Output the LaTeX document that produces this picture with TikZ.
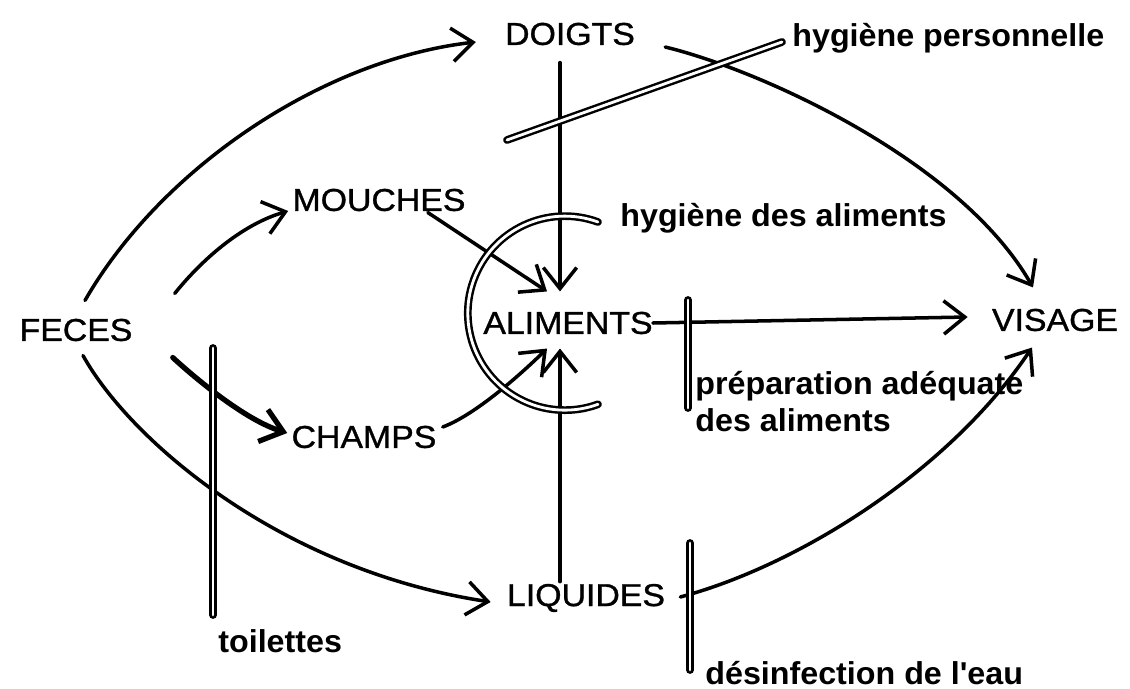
\documentclass[tikz,border=0pt]{standalone}
\usepackage{fontspec}
\setmainfont{Liberation Sans}[FakeStretch=1.07,FakeBold=1]
\newfontfamily\labfont{Liberation Sans}[FakeStretch=1.02]
\usetikzlibrary{arrows.meta,calc}

\begin{document}
\begin{tikzpicture}[
  x=0.02cm, y=-0.02cm,
  line cap=round,
  word/.style={inner sep=0pt,font=\fontsize{18}{21.5}\selectfont},
  lab/.style={inner sep=0pt,anchor=base west,align=left,
              font=\labfont\bfseries\fontsize{18}{21.5}\selectfont},
  link/.style={line width=2pt,-{Straight Barb[length=12pt,width=19pt]}},
  barrier/.style={double,double distance=1.6pt,line width=1.4pt}
]
\useasboundingbox (0,0) rectangle (1130,689);

% ---- Voies ----
\node[word] (feces)    at (76,330)   {FECES};
\node[word] (doigts)   at (570,34)   {DOIGTS};
\node[word] (mouches)  at (379,200)  {MOUCHES};
\node[word] (champs)   at (364,437)  {CHAMPS};
\node[word] (aliments) at (568,323)  {ALIMENTS};
\node[word] (liquides) at (586,598)  {LIQUIDES};
\node[word] (visage)   at (1055,320) {VISAGE};

% ---- depuis les feces ----
\draw[link] ($(feces.north)+(9,-18)$) .. controls (160,170) and (320,60) ..
  ($(doigts.west)+(-29,8)$);
\draw[link] ($(feces.north east)+(42,-25)$) .. controls (200,262) and (240,225) ..
  ($(mouches.west)+(-4,11)$);
\draw[link,line width=3pt] ($(feces.south east)+(40,16)$) .. controls (195,378) and (245,420) ..
  ($(champs.west)+(-4,-4)$);
\draw[link] ($(feces.south)+(7,14)$) .. controls (130,440) and (280,570) ..
  ($(liquides.west)+(-16,4)$);

% ---- vers les aliments ----
\draw[link] ($(mouches.south east)+(-38,1)$) -- ($(aliments.north west)+(64,-20)$);
\draw[link] ($(doigts.south)+(-10,17)$) -- ($(aliments.north)+(-8,-20)$);
\draw[link] ($(champs.east)+(6,-10)$) .. controls (475,415) and (520,375) ..
  ($(aliments.south west)+(64,14)$);
\draw[link] ($(liquides.north)+(-26,-2)$) -- ($(aliments.south)+(-8,14)$);

% ---- vers le visage ----
\draw[link] (aliments.east) -- ($(visage.west)+(-24,-3)$);
\draw[link] ($(doigts.east)+(30,13)$) .. controls (760,70) and (960,160) ..
  ($(visage.north)+(-22,-21)$);
\draw[link] ($(liquides.east)+(15,-1)$) .. controls (800,565) and (950,470) ..
  ($(visage.south)+(-23,16)$);

% ---- barrieres ----
\draw[barrier] (507,140) -- (782,42);
\draw[barrier] (598,222) arc[start angle=-70,end angle=-290,radius=97];
\draw[barrier] (688,300) -- (688,408);
\draw[barrier] (213,348) -- (213,615);
\draw[barrier] (690,543) -- (690,670);

\node[lab] (hperso) at (792,47)  {hygiène personnelle};
\node[lab] (halim)  at (620,227) {hygiène des aliments};
\node[lab] (prepa)  at (695,432) {préparation adéquate\\des aliments};
\node[lab] (toil)   at (218,652) {toilettes};
\node[lab] (desinf) at (705,684) {désinfection de l\textquotesingle eau};

\end{tikzpicture}
\end{document}
